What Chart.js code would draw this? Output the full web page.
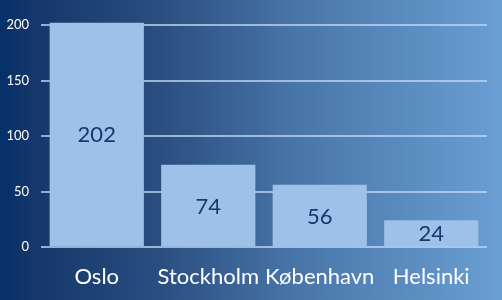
<!DOCTYPE html>
<html>
<head>
<meta charset="utf-8">
<script src="https://cdn.jsdelivr.net/npm/chart.js@4"></script>
<style>
    html, body { margin: 0; padding: 0; }
    #wrap {
        width: 502px; height: 300px; position: relative;
        background: linear-gradient(to right, #05306a 0%, #143669 6%, #2a4e80 32%, #4a77aa 60%, #6a9fd3 100%);
    }
</style>
</head>
<body>
<div id="wrap"><canvas id="chart" width="502" height="300"></canvas></div>
<script>
/* ------------------------------- Data -------------------------------*/

const CITIES = ["Oslo", "Stockholm", "København", "Helsinki"];
const VALUES = [202, 74, 56, 24];
const Y_TICKS = [0, 50, 100, 150, 200];

const FONT = "Lato, 'Open Sans', sans-serif";

/* ------------------------------- Labels inside bars -------------------------------*/

const barLabels = {
    id: "barLabels",
    afterDatasetsDraw(chart) {
        const ctx = chart.ctx;
        const meta = chart.getDatasetMeta(0);
        ctx.save();
        ctx.font = "22px " + FONT;
        ctx.fillStyle = "#15396b";
        ctx.textAlign = "center";
        ctx.textBaseline = "middle";
        meta.data.forEach((bar, i) => {
            const yMid = (bar.y + bar.base) / 2 + 1;
            ctx.fillText(VALUES[i], bar.x, yMid);
        });
        ctx.restore();
    }
};

Chart.defaults.font.family = FONT;

new Chart(document.getElementById("chart").getContext("2d"), {
    type: "bar",
    data: {
        labels: CITIES,
        datasets: [{
            data: VALUES,
            backgroundColor: "#9dc1e8",
            borderWidth: 0,
            clip: false,
            categoryPercentage: 0.845,
            barPercentage: 1
        }]
    },
    options: {
        responsive: false,
        animation: false,
        layout: { padding: { top: 25, right: 15, left: 0, bottom: 0 } },
        plugins: {
            legend: { display: false },
            tooltip: { enabled: false }
        },
        scales: {
            x: {
                grid: { display: false },
                border: { display: false },
                ticks: { color: "#ffffff", font: { size: 22 }, padding: 9, maxRotation: 0, minRotation: 0, autoSkip: false },
                afterFit(scale) { scale.height = 53; }
            },
            y: {
                min: 0,
                max: 200,
                afterBuildTicks(scale) {
                    scale.ticks = Y_TICKS.map(v => ({ value: v }));
                },
                grid: { color: "rgba(190,215,245,0.75)", lineWidth: 2, drawTicks: false },
                border: { display: false },
                ticks: { color: "#ffffff", font: { size: 13 }, padding: 12 },
                afterFit(scale) { scale.width = 41; }
            }
        }
    },
    plugins: [barLabels]
});
</script>
</body>
</html>
